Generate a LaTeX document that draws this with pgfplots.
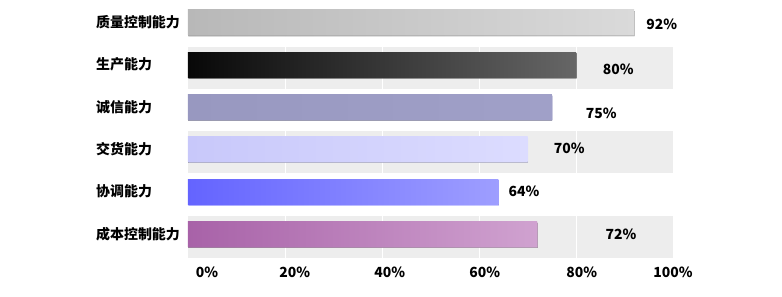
\documentclass[border=0pt]{standalone}
\usepackage{fontspec}
\setmainfont{Noto Sans CJK SC}
\usepackage{pgfplots}
\pgfplotsset{compat=1.18}
\usetikzlibrary{shadows}
\definecolor{bandgray}{HTML}{EDEDED}
\definecolor{c1l}{HTML}{B8B8B8}\definecolor{c1r}{HTML}{DADADA}
\definecolor{c2l}{HTML}{080808}\definecolor{c2r}{HTML}{666666}
\definecolor{c3l}{HTML}{9898C0}\definecolor{c3r}{HTML}{A0A0C8}
\definecolor{c4l}{HTML}{C8C8FA}\definecolor{c4r}{HTML}{DCDCFF}
\definecolor{c5l}{HTML}{6464FF}\definecolor{c5r}{HTML}{9E9EFF}
\definecolor{c6l}{HTML}{A862A8}\definecolor{c6r}{HTML}{D0A2D0}
\begin{document}
\begin{tikzpicture}
\path[use as bounding box] (-188bp,-39bp) rectangle (594bp,258bp);
\begin{axis}[
  at={(0,0)}, anchor=south west, scale only axis,
  width=485bp, height=258bp,
  xmin=0, xmax=100, ymin=0.47, ymax=6.57, y dir=reverse,
  axis line style={draw=none}, tick style={draw=none},
  ytick={1,2,3,4,5,6},
  yticklabels={质量控制能力,生产能力,诚信能力,交货能力,协调能力,成本控制能力},
  xtick={3.9,22,41.6,61.2,81.2,100},
  xticklabels={0\%,20\%,40\%,60\%,80\%,100\%},
  ticklabel style={font=\bfseries\fontsize{14}{16}\selectfont},
  yticklabel style={anchor=west, inner sep=0pt, xshift=-92bp},
  xticklabel style={yshift=-5bp},
  clip=false,
]
\fill[bandgray] (axis cs:0,1.57) rectangle (axis cs:100,2.57);
\fill[bandgray] (axis cs:0,3.57) rectangle (axis cs:100,4.57);
\fill[bandgray] (axis cs:0,5.57) rectangle (axis cs:100,6.57);
\pgfplotsinvokeforeach{20,40,60,80}{\draw[white,line width=1bp] (axis cs:#1,0.47) -- (axis cs:#1,6.57);}
\pgfplotsset{mybar/.style={xbar, bar shift=0pt, bar width=0.59, draw=none,
  drop shadow={shadow xshift=0.5bp, shadow yshift=-1.2bp, opacity=0.55, fill=black!70}}}
\addplot[mybar, left color=c1l, right color=c1r] coordinates {(92,1)};
\addplot[mybar, left color=c2l, right color=c2r] coordinates {(80,2)};
\addplot[mybar, left color=c3l, right color=c3r] coordinates {(75,3)};
\addplot[mybar, left color=c4l, right color=c4r] coordinates {(70,4)};
\addplot[mybar, left color=c5l, right color=c5r] coordinates {(64,5)};
\addplot[mybar, left color=c6l, right color=c6r] coordinates {(72,6)};
\addplot[draw=none, mark=none, nodes near coords, point meta=explicit symbolic,
  nodes near coords style={anchor=center, text=black, font=\bfseries\fontsize{14}{16}\selectfont}]
  coordinates {(97.7,1.035)[92\%] (88.7,2.12)[80\%] (85.2,3.14)[75\%] (78.6,3.97)[70\%] (69.3,5.0)[64\%] (89.3,6.02)[72\%]};
\end{axis}
\end{tikzpicture}
\end{document}
